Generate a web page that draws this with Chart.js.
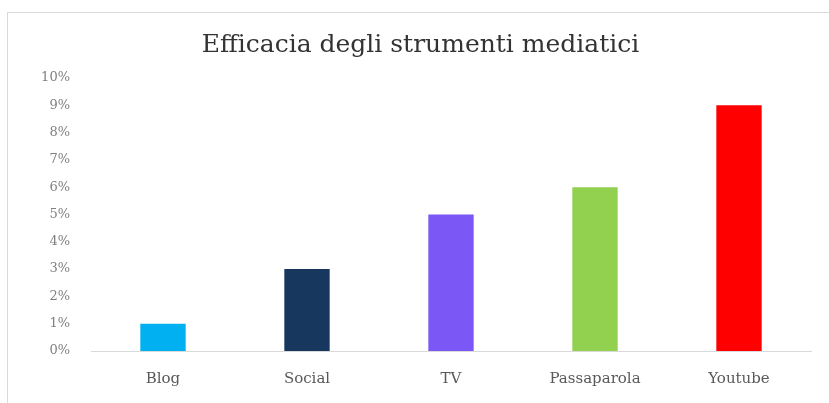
<!DOCTYPE html>
<html>
<head>
<meta charset="utf-8">
<script src="https://cdn.jsdelivr.net/npm/chart.js@4/dist/chart.umd.min.js"></script>
<style>
  html, body { margin: 0; padding: 0; background: #ffffff; }
  #frame {
    position: absolute; left: 7px; top: 12px; width: 840px; height: 420px;
    border: 1px solid #d9d9d9; box-sizing: border-box;
  }
  #wrap { position: absolute; left: 0; top: 0; width: 829px; height: 403px; }
</style>
</head>
<body>
<div id="frame"></div>
<div id="wrap"><canvas id="chart" width="829" height="403"></canvas></div>
<script>
// Efficacia degli strumenti mediatici (valori in percentuale)
const categories = ['Blog', 'Social', 'TV', 'Passaparola', 'Youtube'];
const values = [1, 3, 5, 6, 9];
const barColors = ['#00b0f0', '#17375e', '#7b58f5', '#92d050', '#ff0000'];
const yTicks = [0, 1, 2, 3, 4, 5, 6, 7, 8, 9, 10];

const serif = '"DejaVu Serif", "Liberation Serif", serif';

new Chart(document.getElementById('chart'), {
  type: 'bar',
  data: {
    labels: categories,
    datasets: [{
      data: values,
      backgroundColor: barColors,
      borderWidth: 0,
      barPercentage: 0.63,
      categoryPercentage: 0.5
    }]
  },
  options: {
    responsive: false,
    animation: false,
    layout: { padding: { left: 30, right: 18, top: 20, bottom: 15 } },
    plugins: {
      legend: { display: false },
      tooltip: { enabled: false },
      title: {
        display: true,
        text: 'Efficacia degli strumenti mediatici',
        color: '#333333',
        font: { family: serif, size: 25, weight: 'normal' },
        padding: { top: 10, bottom: 18 }
      }
    },
    scales: {
      x: {
        afterFit: (axis) => { axis.height = 37; },
        grid: { display: false, drawTicks: false },
        border: { display: true, color: '#d9d9d9', width: 1 },
        ticks: { color: '#595959', font: { family: serif, size: 15 }, padding: 19 }
      },
      y: {
        min: 0,
        max: 10,
        afterBuildTicks: (axis) => { axis.ticks = yTicks.map(v => ({ value: v })); },
        afterFit: (axis) => { axis.width = 61; },
        grid: { display: false, drawTicks: false },
        border: { display: false },
        ticks: {
          color: '#808080',
          font: { family: serif, size: 13 },
          padding: 21,
          callback: (v) => v + '%'
        }
      }
    }
  }
});
</script>
</body>
</html>
